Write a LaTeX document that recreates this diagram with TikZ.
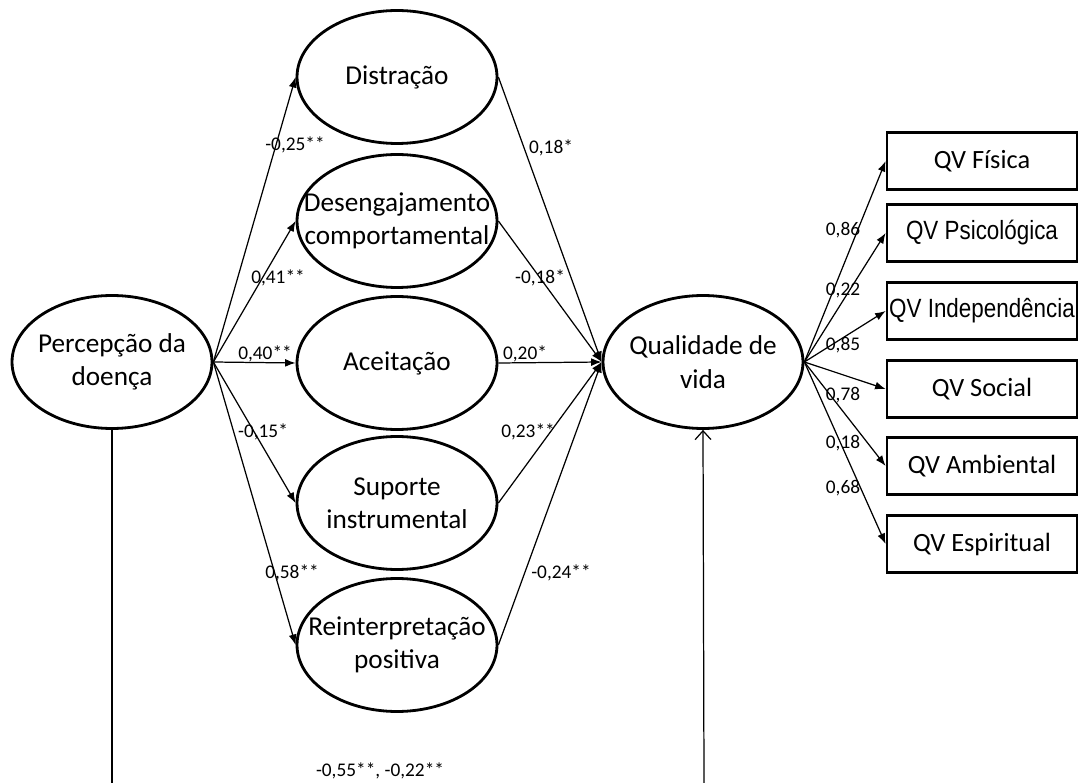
\documentclass[tikz,border=0pt]{standalone}
\usepackage{fontspec}
\setmainfont{Carlito}
\newfontfamily\narrowsf[FakeStretch=0.85]{Liberation Sans}
\usetikzlibrary{shapes,arrows.meta,positioning}
\tikzset{>={Latex[length=6pt,width=4.5pt]}}

\begin{document}
\begin{tikzpicture}[x=0.02cm,y=-0.02cm,
                    latent/.style={ellipse, draw, line width=1.6pt, minimum width=4cm, minimum height=2.66cm,
                                   inner sep=0pt,
                                   label={[align=center, inner sep=0pt, font=\fontsize{15.5}{19}\selectfont]center:#1}},
                    indic/.style={rectangle, draw, line width=1.6pt, minimum width=3.8cm, minimum height=1.14cm,
                                  inner sep=0pt, font=\fontsize{15}{18}\selectfont},
                    link/.style={->, line width=0.7pt},
                    coef/.style={inner sep=0pt, font=\fontsize{11}{13}\selectfont},
                   ]

\useasboundingbox (0,0) rectangle (1078,783);

% latent variables
\node[latent={Percepção da\\doença}] (perc) at (112,362) {};
\node[latent={Distração}] (dist) at (397,77) {};
\node[latent={Desengajamento\\comportamental}] (deseng) at (397,221) {};
\node[latent={Aceitação}] (aceit) at (397,363) {};
\node[latent={Suporte\\instrumental}] (suporte) at (397,503) {};
\node[latent={Reinterpretação\\positiva}] (reint) at (397,645) {};
\node[latent={Qualidade de\\vida}] (qv) at (703,362) {};

% indicators
\node[indic] (qvfis) at (982,161) {QV Física};
\node[indic] (qvpsi) at (982,233) {\narrowsf QV Psicológica};
\node[indic] (qvind) at (982,311) {\narrowsf QV Independência};
\node[indic] (qvsoc) at (982,389) {QV Social};
\node[indic] (qvamb) at (982,466) {QV Ambiental};
\node[indic] (qvesp) at (982,544) {QV Espiritual};

% perception -> coping
\draw[link] (perc.east) -- (dist.west);
\draw[link] (perc.east) -- (deseng.west);
\draw[link] (perc.east) -- (aceit.west);
\draw[link] (perc.east) -- (suporte.west);
\draw[link] (perc.east) -- (reint.west);

% coping -> quality of life
\draw[link] (dist.east) -- (qv.west);
\draw[link] (deseng.east) -- (qv.west);
\draw[link] (aceit.east) -- (qv.west);
\draw[link] (suporte.east) -- (qv.west);
\draw[link] (reint.east) -- (qv.west);

% quality of life -> domains
\draw[link] (qv.east) -- (qvfis.west);
\draw[link] (qv.east) -- (qvpsi.west);
\draw[link] (qv.east) -- (qvind.west);
\draw[link] (qv.east) -- (qvsoc.west);
\draw[link] (qv.east) -- (qvamb.west);
\draw[link] (qv.east) -- (qvesp.west);

% direct path
\coordinate (bl) at (112,783);
\coordinate (br) at (704,783);
\draw[line width=0.7pt] (perc.south) -- (bl);
\draw[line width=0.7pt, -{Straight Barb[length=5pt,width=9pt]}] (br) -- (qv.south);

% coefficients
\node[coef] (c1) at (295,145) {-0,25**};
\node[coef] (c2) at (278,278) {0,41**};
\node[coef] (c3) at (265,354) {0,40**};
\node[coef] (c4) at (263,432) {-0,15*};
\node[coef] (c5) at (292,573) {0,58**};
\node[coef] (c6) at (551,148) {0,18*};
\node[coef] (c7) at (540,278) {-0,18*};
\node[coef] (c8) at (525,354) {0,20*};
\node[coef] (c9) at (528,432) {0,23**};
\node[coef] (c10) at (561,573) {-0,24**};
\node[coef] (l1) at (843,230) {0,86};
\node[coef] (l2) at (843,290) {0,22};
\node[coef] (l3) at (843,345) {0,85};
\node[coef] (l4) at (843,395) {0,78};
\node[coef] (l5) at (843,443) {0,18};
\node[coef] (l6) at (843,488) {0,68};
\node[coef] (cdir) at (380,771) {-0,55**, -0,22**};

\end{tikzpicture}
\end{document}
